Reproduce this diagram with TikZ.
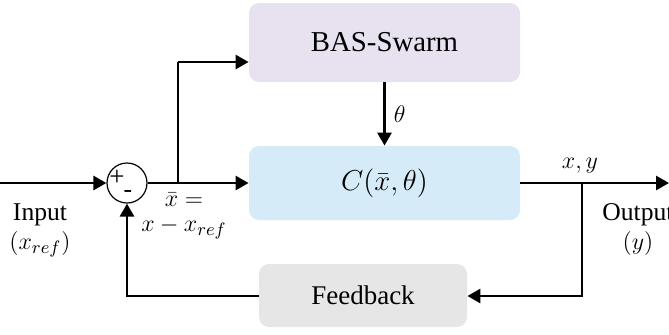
\documentclass[tikz,border=0pt]{standalone}
\usepackage{fontspec}
\setmainfont{Liberation Serif}
\usetikzlibrary{arrows.meta}
\definecolor{basfill}{RGB}{231,225,240}
\definecolor{cfill}{RGB}{213,235,248}
\definecolor{fbfill}{RGB}{230,230,230}
\tikzset{
  blk/.style={draw=none, rounded corners=5pt, inner sep=0pt},
  conn/.style={line width=1.4pt, -{Triangle[length=6.5pt,width=7pt]}},
  plain/.style={line width=1.4pt},
  lbl/.style={font=\fontsize{12.8}{13.5}\selectfont, inner sep=0pt, align=center},
}
\begin{document}
\begin{tikzpicture}[x=0.5pt,y=-0.5pt]
\useasboundingbox (0,0) rectangle (669,334);
\node[blk, fill=basfill, minimum width=135.5pt, minimum height=39.5pt, font=\fontsize{14.4}{16}\selectfont] (bas) at (384.5,42.5) {BAS-Swarm};
\node[blk, fill=cfill, minimum width=135.5pt, minimum height=37pt, font=\fontsize{14.4}{16}\selectfont] (ctl) at (384.5,183) {$C(\bar{x},\theta)$};
\node[blk, fill=fbfill, minimum width=104pt, minimum height=31.5pt, font=\fontsize{13.5}{15}\selectfont] (fb) at (363,295.5) {Feedback};
\node[circle, draw, line width=0.6pt, minimum size=20pt, inner sep=0pt] (sum) at (127,183) {};
\coordinate (in) at (0,183);
\coordinate (out) at (669,183);
\coordinate (br1) at (178,183);
\coordinate (br1u) at (178,62);
\coordinate (br2) at (582,183);
\coordinate (br2d) at (582,296);
\coordinate (fbl) at (127,296);
\node[lbl, font=\fontsize{13.5}{14}\selectfont] (plus) at (117,178) {+};
\node[lbl] (minus) at (128,194) {-};
\draw[conn] (in) -- (sum.west);
\draw[conn] (sum.east) -- (ctl.west);
\draw[plain] (br1) -- (br1u);
\draw[conn] (br1u) -- (bas.west |- br1u);
\draw[conn] (bas.south) -- (ctl.north) node[midway, right=4pt, lbl] (th) {$\theta$};
\draw[conn] (ctl.east) -- (out);
\draw[conn] (br2) -- (br2d) -- (fb.east |- br2d);
\draw[conn] (fb.west |- fbl) -- (fbl) -- (sum.south);
\node[lbl] (xy) at (580,166) {$x,y$};
\node[lbl] (xbar) at (184,216) {$\bar{x} =$\\[-1pt]$x - x_{ref}$};
\node[lbl] (inp) at (40,230) {Input\\[1pt]$(x_{ref})$};
\node[lbl] (outp) at (638,230) {Output\\[1pt]$(y)$};
\end{tikzpicture}
\end{document}
